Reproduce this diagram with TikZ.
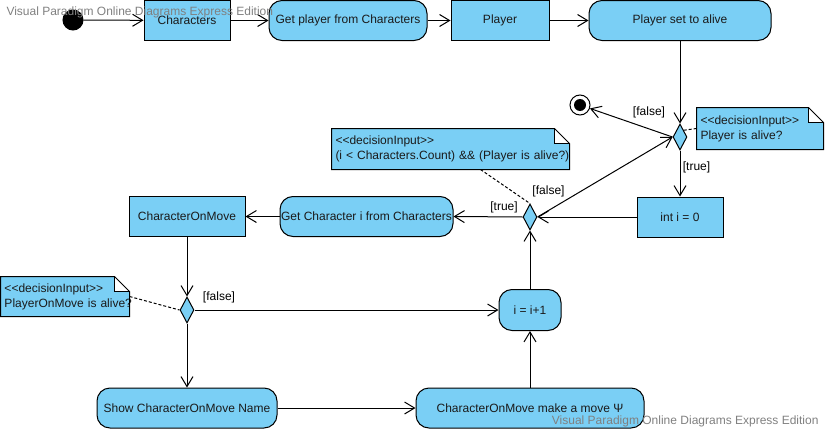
\documentclass[tikz,border=0pt]{standalone}
\usepackage{fontspec}
\setmainfont{Liberation Sans}
\usetikzlibrary{arrows.meta,shapes.geometric}
\definecolor{vpblue}{HTML}{7ACFF5}
\definecolor{vptext}{HTML}{1A1A1A}
\definecolor{wmgray}{HTML}{808080}
\newcommand{\vpnoteframe}[1]{%
  \fill[white] ([xshift=-15pt]#1.north east) rectangle ([yshift=-15pt]#1.north east);
  \draw (#1.north west) -- ([xshift=-15pt]#1.north east) -- ([yshift=-15pt]#1.north east) -- (#1.south east) -- (#1.south west) -- cycle;
  \draw ([xshift=-15pt]#1.north east) -- ([xshift=-15pt,yshift=-15pt]#1.north east) -- ([yshift=-15pt]#1.north east);
}
\newcommand{\decin}{<{}<decisionInput>{}>}
\begin{document}
\begin{tikzpicture}[x=1pt,y=-1pt,line width=1pt,
  base/.style={font=\fontsize{12}{14}\selectfont, text=vptext},
  box/.style={base, draw, fill=vpblue, inner sep=0pt, minimum height=40pt},
  rbox/.style={box, rounded corners=13pt},
  dec/.style={draw, fill=vpblue, diamond, inner sep=0pt, minimum width=14pt, minimum height=26pt},
  flow/.style={draw, -{Straight Barb[length=10pt,width=12pt,line width=1pt]}},
  lbl/.style={font=\fontsize{12}{14}\selectfont, text=black, inner sep=0pt},
  notebg/.style={font=\fontsize{12}{15}\selectfont, text=vptext, fill=vpblue, inner xsep=3.5pt, inner ysep=0pt, align=left},
  dotl/.style={draw, dash pattern=on 3pt off 2pt},
  wmk/.style={font=\fontsize{12}{14}\selectfont, text=wmgray, inner sep=0pt},
]
\useasboundingbox (0,0) rectangle (825,431);

% top row
\node[draw, fill=black, circle, minimum size=20pt, inner sep=0pt] (init) at (73,20) {};
\node[box, minimum width=86pt] (chars) at (187,20.5) {Characters};
\node[rbox, minimum width=158pt] (get) at (348,20.5) {Get player from Characters};
\node[box, minimum width=98pt] (player) at (500,20.5) {Player};
\node[rbox, minimum width=182pt] (alive) at (680,20.5) {Player set to alive};

% first decision
\node[dec] (d1) at (680,137) {};
\node[draw, fill=white, circle, minimum size=20pt, inner sep=0pt] (final) at (580,105) {};
\node[fill=black, circle, minimum size=12pt, inner sep=0pt] (finalin) at (final) {};
\node[notebg, minimum width=126pt, minimum height=41pt, text width=119pt] (n1) at (760,128.5)
  {\mbox{\decin}\\\mbox{Player is alive?}};
\vpnoteframe{n1}
\node[box, minimum width=86pt] (int0) at (680,217) {int i = 0};

% second decision
\node[dec] (d2) at (530,217) {};
\node[notebg, minimum width=237pt, minimum height=40pt, text width=230pt] (n2) at (450.5,149)
  {\mbox{\decin}\\\mbox{(i < Characters.Count) \&\& (Player is alive?)}};
\vpnoteframe{n2}
\node[rbox, minimum width=173pt] (getch) at (366.5,216.5) {Get Character i from Characters};
\node[box, minimum width=116pt] (com) at (187,216.5) {CharacterOnMove};

% third decision
\node[dec] (d3) at (187,310) {};
\node[notebg, minimum width=128pt, minimum height=39pt, text width=121pt] (n3) at (65,296.5)
  {\mbox{\decin}\\\mbox{PlayerOnMove is alive?}};
\vpnoteframe{n3}
\node[rbox, minimum width=62pt, minimum height=41pt] (inc) at (530,310) {i = i+1};
\node[rbox, minimum width=228pt] (move) at (530,408) {CharacterOnMove make a move Ψ};
\node[rbox, minimum width=180pt] (show) at (187,408) {Show CharacterOnMove Name};

% connectors
\draw[flow] (init) -- (chars);
\draw[flow] (chars) -- (get);
\draw[flow] (get) -- (player);
\draw[flow] (player) -- (alive);
\draw[flow] (alive.south) -- (d1.north);
\draw[flow] (d1.west) -- (final);
\draw[flow] (d1.south) -- (int0.north);
\draw[flow] (int0.west) -- (d2.east);
\draw[flow] (d2.east) -- (d1.west);
\draw[flow] (d2.west) -- (getch.east);
\draw[flow] (getch.west) -- (com.east);
\draw[flow] (com.south) -- (d3.north);
\draw[flow] (d3.south) -- (show.north);
\draw[flow] (d3.east) -- (inc.west);
\draw[flow] (show.east) -- (move.west);
\draw[flow] (move.north) -- (inc.south);
\draw[flow] (inc.north) -- (d2.south);

% note links
\draw[dotl] (d1.north east) -- (n1.west);
\draw[dotl] ([xshift=30pt]n2.south) -- (d2.north);
\draw[dotl] (n3.east) -- (d3.west);

% guards
\node[lbl] (l1) at (649,112) {[false]};
\node[lbl] (l2) at (696.5,167) {[true]};
\node[lbl] (l3) at (548.5,191) {[false]};
\node[lbl] (l4) at (504,207) {[true]};
\node[lbl] (l5) at (219,297) {[false]};

% watermarks
\node[wmk, anchor=west] (wm1) at (6,12) {Visual Paradigm Online Diagrams Express Edition};
\node[wmk, anchor=east] (wm2) at (819,421) {Visual Paradigm Online Diagrams Express Edition};
\end{tikzpicture}
\end{document}
